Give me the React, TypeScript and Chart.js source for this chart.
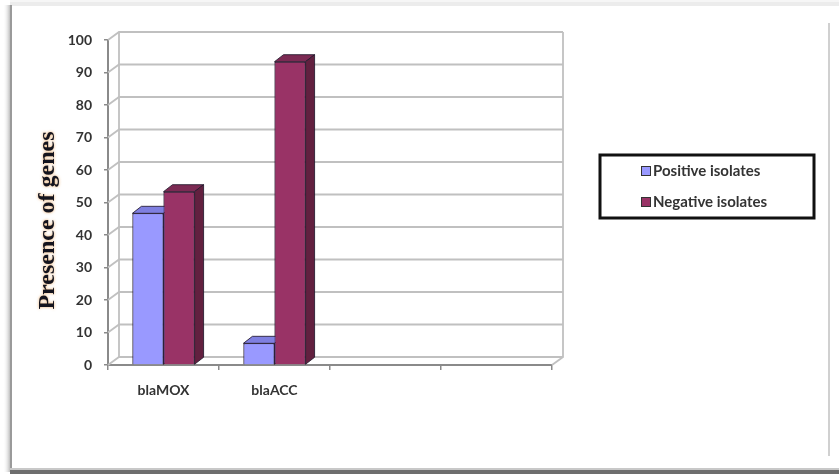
import React, { useEffect, useRef } from "react";
import { Chart, registerables } from "chart.js";

Chart.register(...registerables);

const categories = ["blaMOX", "blaACC", "", ""];
const positiveIsolates = [46.67, 6.67, null, null];
const negativeIsolates = [53.33, 93.33, null, null];
const seriesNames = ["Positive isolates", "Negative isolates"];
const yTitle = "Presence of genes";
const yMin = 0;
const yMax = 100;
const yStep = 10;

const FRONT = ["#9999FF", "#993366"];
const TOP = ["#7f7fe0", "#7c2a53"];
const SIDE = ["#6a6ac4", "#62203f"];
const EDGE = "rgba(35,25,45,0.85)";
const WALL_DX = 11;
const WALL_DY = 8;
const BAR_DX = 9;
const BAR_DY = 7;
const TICK_FONT = { family: "Lato, 'Open Sans', sans-serif", size: 14, weight: "bold" as const };

const framePlugin = {
  id: "frame3d",
  beforeDraw(chart: any) {
    const ctx = chart.ctx;
    ctx.save();
    ctx.fillStyle = "#ffffff";
    ctx.fillRect(0, 0, chart.width, chart.height);
    ctx.fillStyle = "#ececec";
    ctx.fillRect(10, 2, 829, 4);
    ctx.fillStyle = "#f6f6f6";
    ctx.fillRect(10, 0, 829, 2);
    const g = ctx.createLinearGradient(3, 0, 11, 0);
    g.addColorStop(0, "rgba(255,255,255,0)");
    g.addColorStop(1, "rgba(150,150,150,0.8)");
    ctx.fillStyle = g;
    ctx.fillRect(3, 5, 8, 467);
    ctx.fillStyle = "#9a9a9a";
    ctx.fillRect(10, 5, 2, 467);
    ctx.fillStyle = "#c8c8c8";
    ctx.fillRect(10, 468, 829, 2);
    ctx.fillStyle = "#6e6e6e";
    ctx.fillRect(10, 470, 829, 4);
    ctx.fillStyle = "#d0d0d0";
    ctx.fillRect(828, 23, 2, 433);
    ctx.restore();
  },
  beforeDatasetsDraw(chart: any) {
    const ctx = chart.ctx;
    const { left, right, top, bottom } = chart.chartArea;
    const y = chart.scales.y;
    ctx.save();
    ctx.lineWidth = 1.8;
    ctx.strokeStyle = "#c0c0c0";
    for (let v = yMin; v <= yMax; v += yStep) {
      const py = y.getPixelForValue(v);
      ctx.beginPath();
      ctx.moveTo(left, py);
      ctx.lineTo(left + WALL_DX, py - WALL_DY);
      ctx.lineTo(right + WALL_DX, py - WALL_DY);
      ctx.stroke();
    }
    ctx.beginPath();
    ctx.moveTo(left + WALL_DX, top - WALL_DY);
    ctx.lineTo(left + WALL_DX, bottom - WALL_DY);
    ctx.moveTo(right + WALL_DX, top - WALL_DY);
    ctx.lineTo(right + WALL_DX, bottom - WALL_DY);
    ctx.lineTo(right, bottom);
    ctx.stroke();
    ctx.restore();
  },
  afterDatasetsDraw(chart: any) {
    const ctx = chart.ctx;
    const items: any[] = [];
    chart.data.datasets.forEach((_ds: any, di: number) => {
      const meta = chart.getDatasetMeta(di);
      meta.data.forEach((el: any, i: number) => {
        const raw = chart.data.datasets[di].data[i];
        if (raw === null || raw === undefined) return;
        items.push({ el, di });
      });
    });
    items.sort((a, b) => a.el.x - b.el.x);
    ctx.save();
    for (const { el, di } of items) {
      const p = el.getProps(["x", "y", "base", "width"], true);
      const l = p.x - p.width / 2;
      const r = p.x + p.width / 2;
      const t = Math.min(p.y, p.base);
      const b = Math.max(p.y, p.base);
      ctx.lineWidth = 1;
      ctx.strokeStyle = EDGE;
      ctx.lineJoin = "round";
      ctx.beginPath();
      ctx.moveTo(l, t);
      ctx.lineTo(r, t);
      ctx.lineTo(r + BAR_DX, t - BAR_DY);
      ctx.lineTo(l + BAR_DX, t - BAR_DY);
      ctx.closePath();
      ctx.fillStyle = TOP[di];
      ctx.fill();
      ctx.stroke();
      ctx.beginPath();
      ctx.moveTo(r, t);
      ctx.lineTo(r + BAR_DX, t - BAR_DY);
      ctx.lineTo(r + BAR_DX, b - BAR_DY);
      ctx.lineTo(r, b);
      ctx.closePath();
      ctx.fillStyle = SIDE[di];
      ctx.fill();
      ctx.stroke();
      el.draw(ctx);
    }
    ctx.restore();
  },
  afterDraw(chart: any) {
    const ctx = chart.ctx;
    const { top, bottom } = chart.chartArea;
    ctx.save();
    ctx.translate(48, (top + bottom) / 2 + 18);
    ctx.rotate(-Math.PI / 2);
    ctx.font = "bold 24px 'Liberation Serif', 'Times New Roman', serif";
    ctx.textAlign = "center";
    ctx.textBaseline = "middle";
    ctx.shadowColor = "rgba(225,140,50,0.75)";
    ctx.shadowBlur = 3;
    ctx.fillStyle = "#14141e";
    ctx.fillText(yTitle, 0, 0);
    ctx.restore();

    ctx.save();
    ctx.lineWidth = 3;
    ctx.strokeStyle = "#111";
    ctx.strokeRect(600, 155, 214, 63);
    ctx.font = "bold 15px Lato, 'Open Sans', sans-serif";
    ctx.textBaseline = "middle";
    ctx.textAlign = "left";
    const rows = [171, 202];
    chart.data.datasets.forEach((ds: any, i: number) => {
      const cy = rows[i];
      ctx.fillStyle = ds.backgroundColor;
      ctx.fillRect(642, cy - 4, 8, 8);
      ctx.lineWidth = 1;
      ctx.strokeStyle = "#333";
      ctx.strokeRect(641.5, cy - 4.5, 9, 9);
      ctx.fillStyle = "#333333";
      ctx.fillText(ds.label, 653, cy);
    });
    ctx.restore();
  },
};

export default function App() {
  const ref = useRef<HTMLCanvasElement | null>(null);
  useEffect(() => {
    if (!ref.current) return;
    const chart = new Chart(ref.current, {
      type: "bar",
      data: {
        labels: categories,
        datasets: [
          {
            label: seriesNames[0],
            data: positiveIsolates,
            backgroundColor: FRONT[0],
            borderColor: EDGE,
            borderWidth: 1,
          },
          {
            label: seriesNames[1],
            data: negativeIsolates,
            backgroundColor: FRONT[1],
            borderColor: EDGE,
            borderWidth: 1,
          },
        ] as any,
      },
      options: {
        responsive: false,
        animation: false,
        devicePixelRatio: 1,
        layout: { padding: { left: 0, right: 287, top: 40, bottom: 0 } },
        datasets: { bar: { categoryPercentage: 0.56, barPercentage: 1.0 } },
        plugins: {
          legend: { display: false },
          tooltip: { enabled: false },
          title: { display: false },
        },
        scales: {
          x: {
            offset: true,
            afterFit: (s: any) => {
              s.height = 110;
            },
            grid: {
              offset: true,
              drawOnChartArea: false,
              drawTicks: true,
              tickLength: 5,
              color: "#8a8a8a",
              lineWidth: 1.5,
            },
            border: { display: true, color: "#8a8a8a", width: 2 },
            ticks: {
              color: "#333333",
              font: TICK_FONT,
              padding: 12,
              maxRotation: 0,
              autoSkip: false,
            },
          },
          y: {
            min: yMin,
            max: yMax,
            afterFit: (s: any) => {
              s.width = 108;
            },
            grid: {
              drawOnChartArea: false,
              drawTicks: true,
              tickLength: 4,
              color: "#8a8a8a",
              lineWidth: 1.5,
            },
            border: { display: true, color: "#8a8a8a", width: 2 },
            ticks: {
              stepSize: yStep,
              color: "#333333",
              font: TICK_FONT,
              padding: 12,
            },
          },
        },
      },
      plugins: [framePlugin],
    });
    return () => chart.destroy();
  }, []);
  return (
    <div style={{ position: "absolute", left: 0, top: 0, width: 839, height: 475, background: "#fff" }}>
      <canvas ref={ref} width={839} height={475} style={{ display: "block" }} />
    </div>
  );
}
